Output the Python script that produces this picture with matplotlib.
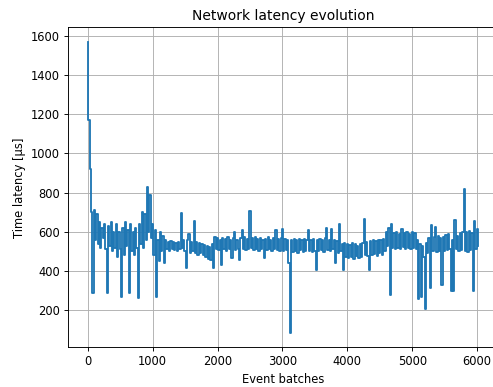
import matplotlib
matplotlib.use("Agg")
import matplotlib.pyplot as plt
import numpy as np

# latency samples, one every 20 event batches
step = 20
latency = [
    1570, 1170, 920, 700, 290, 710, 560, 690, 540, 650, 520, 620, 570, 640, 510, 290, 630, 530, 650, 500, 600, 520, 640, 470, 600,
    510, 265, 620, 480, 650, 530, 610, 290, 640, 500, 600, 480, 620, 520, 260, 640, 540, 700, 520, 690, 560, 830, 600, 790, 570,
    640, 480, 610, 265, 560, 450, 600, 500, 580, 440, 560, 510, 550, 500, 555, 510, 550, 505, 545, 500, 550, 510, 697, 520, 560,
    500, 418, 560, 590, 490, 550, 500, 653, 490, 550, 480, 545, 490, 540, 480, 535, 470, 530, 460, 525, 457, 540, 418, 575, 510,
    570, 505, 560, 431, 570, 510, 565, 500, 575, 515, 560, 467, 570, 601, 505, 560, 510, 457, 570, 611, 510, 575, 505, 565, 515,
    704, 520, 570, 505, 575, 510, 565, 500, 570, 515, 560, 467, 565, 505, 575, 510, 560, 500, 570, 515, 611, 505, 565, 500, 570,
    615, 500, 565, 505, 560, 440, 85, 560, 495, 565, 500, 560, 490, 565, 505, 560, 495, 565, 500, 560, 611, 500, 560, 495, 565,
    500, 407, 560, 500, 565, 505, 560, 495, 570, 620, 505, 560, 500, 615, 510, 560, 441, 555, 490, 640, 500, 540, 407, 545, 470,
    540, 465, 535, 470, 545, 460, 540, 475, 530, 465, 540, 470, 545, 665, 480, 550, 475, 407, 555, 480, 560, 485, 555, 475, 560,
    490, 560, 480, 565, 500, 600, 530, 620, 280, 641, 520, 595, 510, 600, 520, 590, 515, 616, 525, 595, 510, 600, 520, 590, 515,
    600, 520, 595, 510, 560, 255, 540, 270, 530, 470, 207, 545, 490, 570, 314, 636, 500, 575, 626, 495, 580, 500, 570, 330, 575,
    500, 585, 505, 590, 510, 297, 560, 297, 659, 510, 580, 500, 595, 505, 600, 819, 500, 600, 495, 605, 505, 595, 297, 657, 510,
    616, 530,
]
batches = np.arange(len(latency)) * step

fig = plt.figure(figsize=(493 / 83, 387 / 83), dpi=83)
ax = fig.add_axes([0.1385, 0.1026, 0.8716, 0.8269])
ax.plot(batches, latency, color="#1f77b4", drawstyle="steps-mid", lw=1.6)
ax.grid(True)
ax.set_title("Network latency evolution")
ax.set_xlabel("Event batches")
ax.set_ylabel("Time latency [\u00b5s]")
ax.set_yticks([200, 400, 600, 800, 1000, 1200, 1400, 1600])
fig.savefig("out.png", dpi=83)
